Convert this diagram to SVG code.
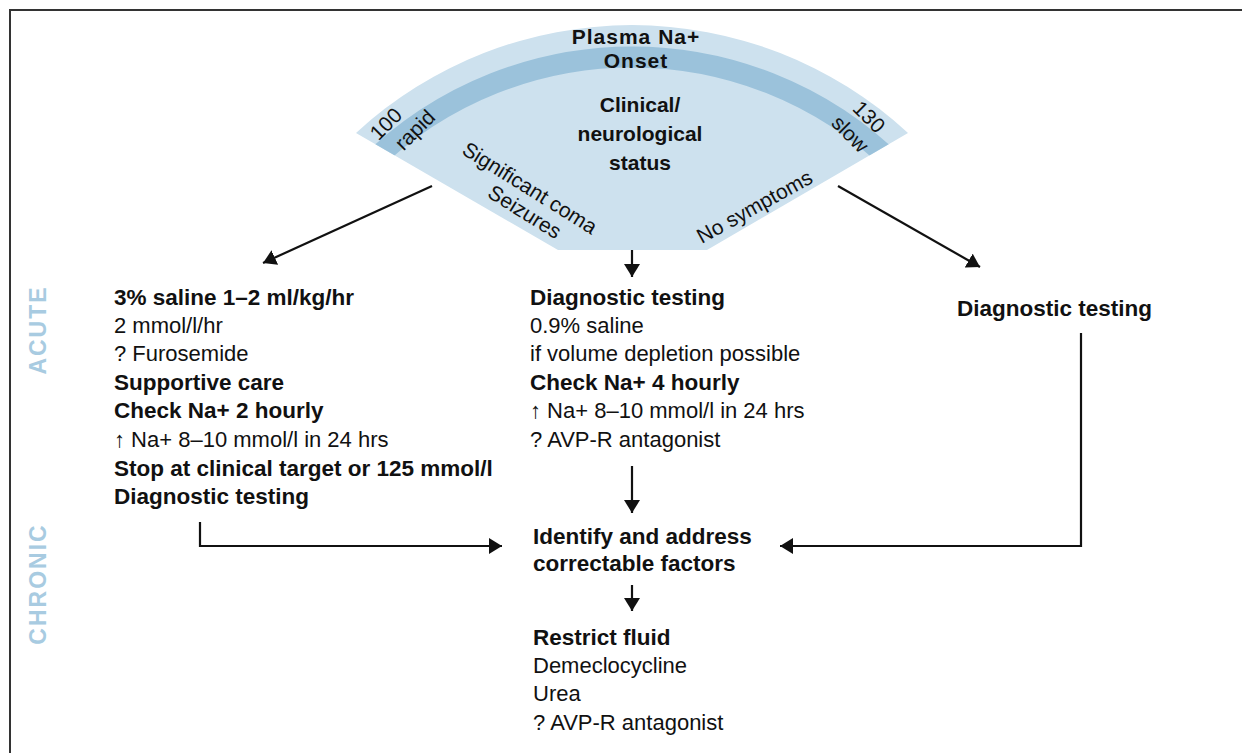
<svg xmlns="http://www.w3.org/2000/svg" width="1242" height="753" viewBox="0 0 1242 753">
<style>
text{font-family:"Liberation Sans",Arial,sans-serif;fill:#111;font-size:22px}
.b{font-weight:bold;font-size:22.5px}
.h{font-weight:bold;font-size:21px;text-anchor:middle}
.t{font-weight:bold;font-size:21px;text-anchor:middle;letter-spacing:1px}
.f{font-size:21px;text-anchor:middle}
.side{font-weight:bold;font-size:23px;fill:#a8cbe1;text-anchor:middle;letter-spacing:2px}
.c{fill:none;stroke:#111;stroke-width:2.2}
</style>
<defs>
<marker id="ah" viewBox="0 0 13 16" refX="13" refY="8" markerWidth="13" markerHeight="16" markerUnits="userSpaceOnUse" orient="auto">
<path d="M0,0 L13,8 L0,16 Z" fill="#111"/>
</marker>
<clipPath id="fanclip"><path d="M356,133 A407,407 0 0 1 908,133 L707,250 L558,250 Z"/></clipPath>
</defs>
<rect width="1242" height="753" fill="#fff"/>
<path d="M10,753 V10 H1242" fill="none" stroke="#333" stroke-width="2"/>
<g id="phase-labels">
<text class="side" transform="translate(46,330) rotate(-90)">ACUTE</text>
<text class="side" transform="translate(46,584) rotate(-90)">CHRONIC</text>
</g>
<g id="fan">
<path d="M356,133 A407,407 0 0 1 908,133 L707,250 L558,250 Z" fill="#cde1ee"/>
<circle cx="632" cy="432" r="375" fill="none" stroke="#9bc2db" stroke-width="21" clip-path="url(#fanclip)"/>
<text class="t" x="636" y="44">Plasma Na+</text>
<text class="t" x="636" y="68">Onset</text>
<text class="h" x="640" y="112">Clinical/</text>
<text class="h" x="640" y="141">neurological</text>
<text class="h" x="640" y="170">status</text>
<text class="f" transform="translate(391,129) rotate(-45)">100</text>
<text class="f" font-size="19" transform="translate(420,135) rotate(-45)">rapid</text>
<text class="f" transform="translate(864,122) rotate(45)">130</text>
<text class="f" font-size="19" transform="translate(845,139) rotate(45)">slow</text>
<text class="f" transform="translate(526,194) rotate(32)">Significant coma</text>
<text class="f" font-size="20" transform="translate(521,218) rotate(32)">Seizures</text>
<text class="f" transform="translate(758,213) rotate(-29)">No symptoms</text>
</g>
<g id="left-branch">
<text class="b" x="114" y="305">3% saline 1–2 ml/kg/hr</text>
<text x="114" y="333">2 mmol/l/hr</text>
<text x="114" y="361">? Furosemide</text>
<text class="b" x="114" y="390">Supportive care</text>
<text class="b" x="114" y="418">Check Na+ 2 hourly</text>
<text x="114" y="447">↑ Na+ 8–10 mmol/l in 24 hrs</text>
<text class="b" x="114" y="476">Stop at clinical target or 125 mmol/l</text>
<text class="b" x="114" y="504">Diagnostic testing</text>
</g>
<g id="middle-branch">
<text class="b" x="530" y="305">Diagnostic testing</text>
<text x="530" y="333">0.9% saline</text>
<text x="530" y="361">if volume depletion possible</text>
<text class="b" x="530" y="390">Check Na+ 4 hourly</text>
<text x="530" y="418">↑ Na+ 8–10 mmol/l in 24 hrs</text>
<text x="530" y="447">? AVP-R antagonist</text>
</g>
<g id="right-branch">
<text class="b" x="957" y="316">Diagnostic testing</text>
</g>
<g id="correctable">
<text class="b" x="533" y="544">Identify and address</text>
<text class="b" x="533" y="571">correctable factors</text>
</g>
<g id="chronic-treatment">
<text class="b" x="533" y="645">Restrict fluid</text>
<text x="533" y="673">Demeclocycline</text>
<text x="533" y="701">Urea</text>
<text x="533" y="730">? AVP-R antagonist</text>
</g>
<g id="connectors">
<path class="c" d="M432,186 L263,263" marker-end="url(#ah)"/>
<path class="c" d="M838,186 L980,267" marker-end="url(#ah)"/>
<path class="c" d="M632,250 V277" marker-end="url(#ah)"/>
<path class="c" d="M632,466 V513" marker-end="url(#ah)"/>
<path class="c" d="M200,522 V546 H502" marker-end="url(#ah)"/>
<path class="c" d="M1081,333 V546 H780" marker-end="url(#ah)"/>
<path class="c" d="M632,585 V611" marker-end="url(#ah)"/>
</g>
</svg>
